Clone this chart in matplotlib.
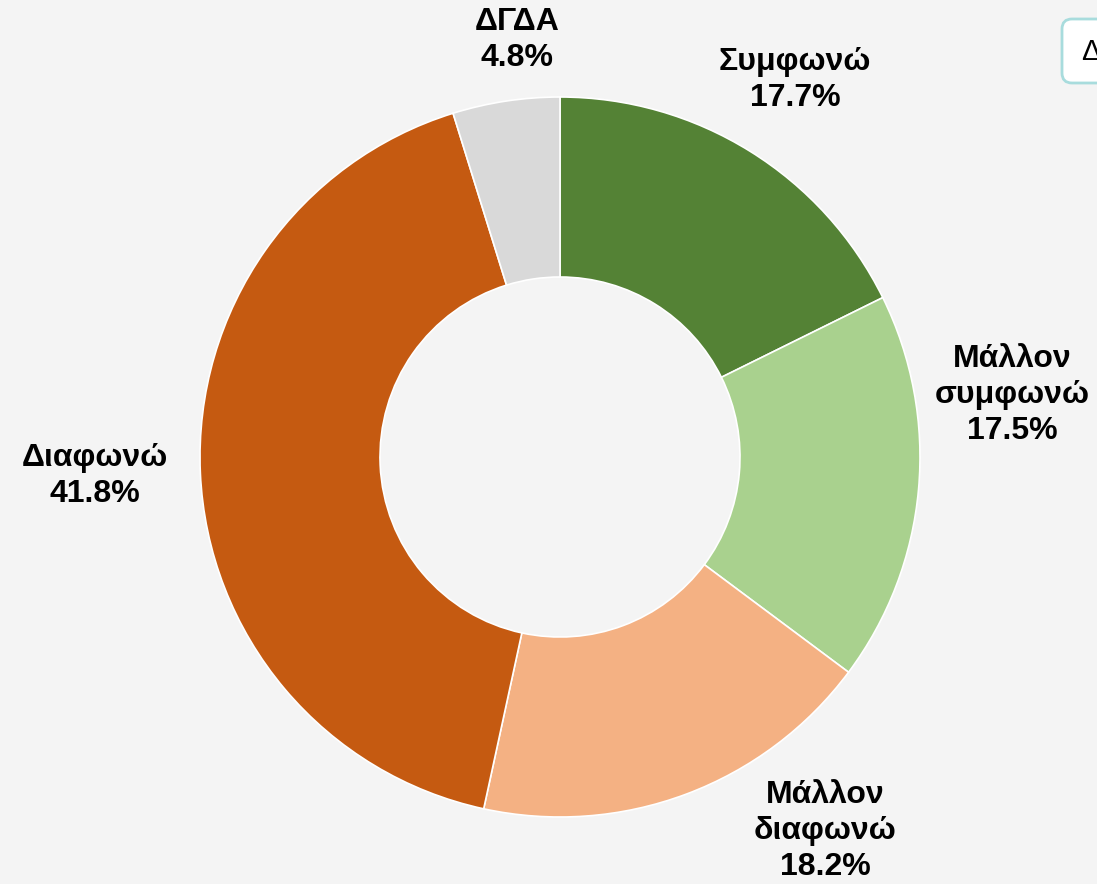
import matplotlib
matplotlib.use("Agg")
import matplotlib.pyplot as plt
from matplotlib.patches import FancyBboxPatch

plt.rcParams['font.family'] = ['Liberation Sans', 'DejaVu Sans']

categories = ["Συμφωνώ", "Μάλλον\nσυμφωνώ", "Μάλλον\nδιαφωνώ", "Διαφωνώ", "ΔΓΔΑ"]
values = [17.7, 17.5, 18.2, 41.8, 4.8]
colors = ["#548235", "#A9D18E", "#F4B183", "#C55A11", "#D9D9D9"]
# label centres in pixel coordinates (x, y from top)
label_pos = [(795, 80), (1012, 395), (825, 831), (95, 476), (517, 40)]

W, H = 1097, 884
fig = plt.figure(figsize=(W / 100, H / 100), dpi=100, facecolor="#F4F4F4")
ax = fig.add_axes([0, 0, 1, 1])

cx, cy, R = 560, 457, 360
# y axis is flipped, so go counterclockwise in data coords
ax.pie(values, colors=colors, startangle=-90, counterclock=True,
       center=(cx, cy), radius=R, frame=True,
       wedgeprops=dict(width=R * 0.5, edgecolor="white", linewidth=1.2))
ax.set_xlim(0, W)
ax.set_ylim(H, 0)
ax.set_aspect("equal")
ax.axis("off")

for name, v, (x, y) in zip(categories, values, label_pos):
    ax.text(x, y, f"{name}\n{v:.1f}%", ha="center", va="center",
            fontsize=23, fontweight="bold", color="black", linespacing=1.25)

# box in the top right corner
box = FancyBboxPatch((1062, 19), 120, 64, boxstyle="round,pad=0,rounding_size=10",
                     facecolor="white", edgecolor="#A8DCDD", linewidth=2, clip_on=False)
ax.add_patch(box)
ax.text(1081, 52, "Δ", ha="left", va="center", fontsize=21, color="black")

fig.savefig("out.png", dpi=100, facecolor=fig.get_facecolor())
